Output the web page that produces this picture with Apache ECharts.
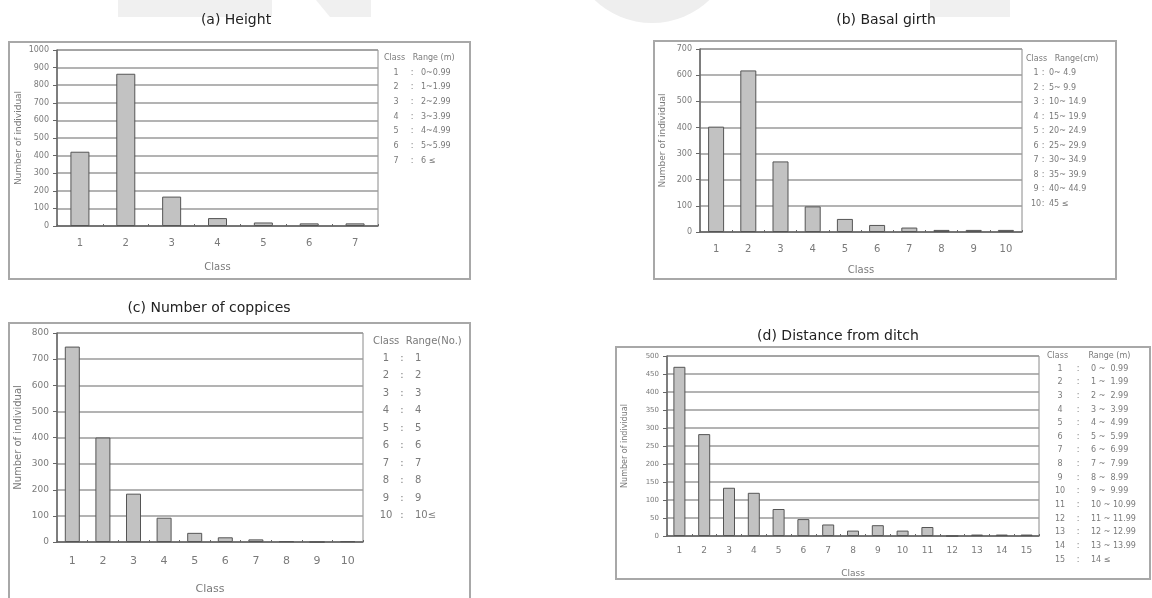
<!DOCTYPE html>
<html><head><meta charset="utf-8">
<script src="https://cdn.jsdelivr.net/npm/echarts@6/dist/echarts.min.js"></script>
<style>html,body{margin:0;padding:0;background:#fff}#c{width:1152px;height:598px}</style>
</head><body><div id="c"></div>
<script>
// ---- data ----
const classesA = ['1','2','3','4','5','6','7'];
const valuesA = [422, 865, 167, 45, 20, 15, 15];
const rangesA = ['0~0.99','1~1.99','2~2.99','3~3.99','4~4.99','5~5.99','6 \u2264'];

const classesB = ['1','2','3','4','5','6','7','8','9','10'];
const valuesB = [403, 618, 270, 98, 50, 27, 17, 8, 8, 8];
const rangesB = ['0~ 4.9','5~ 9.9','10~ 14.9','15~ 19.9','20~ 24.9','25~ 29.9','30~ 34.9','35~ 39.9','40~ 44.9','45 \u2264'];

const classesC = ['1','2','3','4','5','6','7','8','9','10'];
const valuesC = [748, 400, 185, 93, 35, 18, 10, 3, 0, 3];
const rangesC = ['1','2','3','4','5','6','7','8','9','10\u2264'];

const classesD = ['1','2','3','4','5','6','7','8','9','10','11','12','13','14','15'];
const valuesD = [470, 283, 134, 120, 75, 47, 32, 15, 30, 15, 25, 0, 4, 4, 4];
const rangesD = ['0 ~  0.99','1 ~  1.99','2 ~  2.99','3 ~  3.99','4 ~  4.99','5 ~  5.99','6 ~  6.99','7 ~  7.99','8 ~  8.99','9 ~  9.99','10 ~ 10.99','11 ~ 11.99','12 ~ 12.99','13 ~ 13.99','14 \u2264'];

const titles = ['(a) Height','(b) Basal girth','(c) Number of coppices','(d) Distance from ditch'];

// ---- layout ----
const FONT = '"DejaVu Sans", "Noto Sans", sans-serif';
const TXT = '#7a7a7a';
const panels = [
  {cats: classesA, vals: valuesA, max: 1000, interval: 100, grid: {left: 57, top: 50, width: 321, height: 176}, barW: 19, yGap: 34, xGap: 36, lm: 12, fs: 9},
  {cats: classesB, vals: valuesB, max: 700, interval: 100, grid: {left: 700, top: 49, width: 322, height: 183}, barW: 16, yGap: 33, xGap: 33, lm: 12, fs: 9},
  {cats: classesC, vals: valuesC, max: 800, interval: 100, grid: {left: 57, top: 333, width: 306, height: 209}, barW: 15, yGap: 34, xGap: 42, lm: 14, fs: 10},
  {cats: classesD, vals: valuesD, max: 500, interval: 50, grid: {left: 667, top: 356, width: 372, height: 180}, barW: 12, yGap: 38, xGap: 33, lm: 10, fs: 8}
];

const grids = [], xAxes = [], yAxes = [], series = [];
panels.forEach((p, i) => {
  grids.push(Object.assign({show: true, borderColor: '#8a8a8a', borderWidth: 1, backgroundColor: '#fff'}, p.grid));
  xAxes.push({
    type: 'category', gridIndex: i, data: p.cats,
    name: 'Class', nameLocation: 'middle', nameGap: p.xGap,
    nameTextStyle: {color: TXT, fontSize: p.fs + 1, fontFamily: FONT},
    axisLine: {lineStyle: {color: '#666', width: 1.5}},
    axisTick: {show: true, inside: true, length: 2, lineStyle: {color: '#666'}},
    axisLabel: {color: TXT, fontSize: p.fs + 1, margin: p.lm, fontFamily: FONT}
  });
  yAxes.push({
    type: 'value', gridIndex: i, min: 0, max: p.max, interval: p.interval,
    name: 'Number of individual', nameLocation: 'middle', nameGap: p.yGap, nameRotate: 90,
    nameTextStyle: {color: TXT, fontSize: p.fs, fontFamily: FONT},
    axisLine: {show: true, lineStyle: {color: '#666', width: 1.5}},
    axisTick: {show: true, length: 4, lineStyle: {color: '#666'}},
    axisLabel: {color: TXT, fontSize: p.fs - 1, margin: 8, fontFamily: FONT, formatter: v => String(v)},
    splitLine: {lineStyle: {color: '#9a9a9a', width: 1.5}}
  });
  series.push({
    type: 'bar', xAxisIndex: i, yAxisIndex: i, data: p.vals, barWidth: p.barW,
    itemStyle: {color: '#c2c2c2', borderColor: '#555', borderWidth: 1},
    silent: true, animation: false
  });
});

// ---- graphics: panel frames, titles, range tables ----
const g = [];
// faint watermark shapes at the top
g.push({type: 'polygon', z: -10, shape: {points: [[118,0],[272,0],[272,17],[118,17]]}, style: {fill: '#f0f0f0'}});
g.push({type: 'polygon', z: -10, shape: {points: [[316,0],[371,0],[371,17],[330,17]]}, style: {fill: '#f0f0f0'}});
g.push({type: 'circle', z: -10, shape: {cx: 652, cy: -60, r: 83}, style: {fill: '#eeeeee'}});
g.push({type: 'rect', z: -10, shape: {x: 930, y: 0, width: 80, height: 17}, style: {fill: '#f0f0f0'}});

const frames = [[9,42,461,237],[654,41,462,238],[9,323,461,280],[616,347,534,232]];
frames.forEach(f => g.push({type: 'rect', z: -5, shape: {x: f[0], y: f[1], width: f[2], height: f[3]}, style: {fill: 'none', stroke: '#a8a8a8', lineWidth: 2}}));

const titlePos = [[236,20],[886,20],[209,308],[838,336]];
titles.forEach((t, i) => g.push({type: 'text', x: titlePos[i][0], y: titlePos[i][1], style: {text: t, fill: '#222', font: '14px ' + FONT, textAlign: 'center', textVerticalAlign: 'middle'}}));

function addTable(header, hx, hy, ranges, y0, dy, fs, colonX, rangeX, numX) {
  g.push({type: 'text', x: hx, y: hy, style: {text: header, fill: TXT, font: fs + 'px ' + FONT, textAlign: 'left', textVerticalAlign: 'middle'}});
  ranges.forEach((r, i) => {
    const y = y0 + i * dy;
    g.push({type: 'text', x: numX, y: y, style: {text: String(i + 1), fill: TXT, font: fs + 'px ' + FONT, textAlign: 'center', textVerticalAlign: 'middle'}});
    g.push({type: 'text', x: colonX, y: y, style: {text: ':', fill: TXT, font: fs + 'px ' + FONT, textAlign: 'center', textVerticalAlign: 'middle'}});
    g.push({type: 'text', x: rangeX, y: y, style: {text: r, fill: TXT, font: fs + 'px ' + FONT, textAlign: 'left', textVerticalAlign: 'middle'}});
  });
}
addTable('Class   Range (m)', 384, 58, rangesA, 72.5, 14.7, 8, 412, 421, 396);
addTable('Class   Range(cm)', 1026, 59, rangesB, 73, 14.5, 8, 1043, 1049, 1036);
addTable('Class  Range(No.)', 373, 341, rangesC, 358, 17.5, 10, 402, 415, 386);
addTable('Class        Range (m)', 1047, 356, rangesD, 368.5, 13.65, 8, 1078, 1091, 1060);

const chart = echarts.init(document.getElementById('c'), null, {renderer: 'canvas'});
chart.setOption({
  animation: false,
  backgroundColor: '#fff',
  grid: grids, xAxis: xAxes, yAxis: yAxes, series: series,
  graphic: g
});
</script></body></html>
